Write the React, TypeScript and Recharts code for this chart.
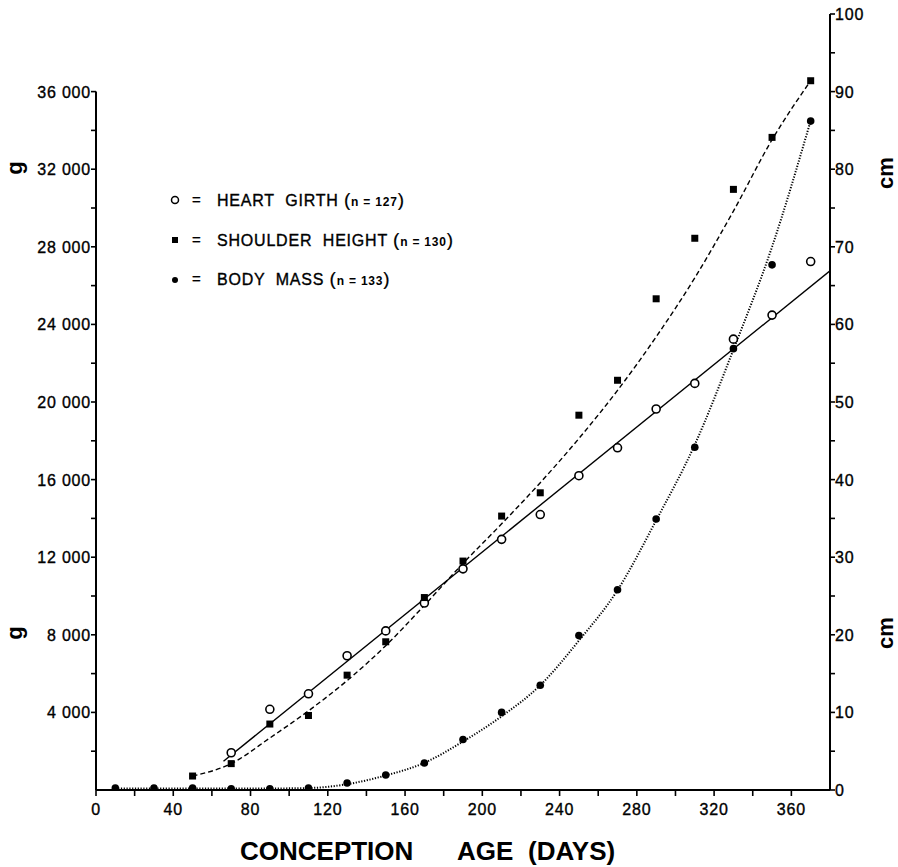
import React from 'react';
import { ComposedChart, XAxis, YAxis, Scatter, Line, ReferenceLine } from 'recharts';

const FONT = '"Liberation Sans", Arial, sans-serif';

// Heart girth (cm, right axis)
const girthDays = [70, 90, 110, 130, 150, 170, 190, 210, 230, 250, 270, 290, 310, 330, 350, 370];
const girthCm = [4.8, 10.4, 12.4, 17.3, 20.5, 24.1, 28.5, 32.3, 35.5, 40.5, 44.1, 49.1, 52.4, 58.1, 61.2, 68.1];
const girthFitDays = [66, 380];
const girthFitCm = [3.7, 66.9];

// Shoulder height (cm, right axis)
const shoulderDays = [50, 70, 90, 110, 130, 150, 170, 190, 210, 230, 250, 270, 290, 310, 330, 350, 370];
const shoulderCm = [1.8, 3.4, 8.5, 9.6, 14.8, 19.1, 24.8, 29.5, 35.3, 38.3, 48.3, 52.8, 63.3, 71.1, 77.4, 84.1, 91.4];
const shoulderFitDays = [50, 70, 90, 110, 130, 150, 170, 190, 210, 230, 250, 270, 290, 310, 330, 350, 370];
const shoulderFitCm = [1.8, 3.4, 6.7, 10.2, 14.1, 18.6, 23.8, 29.2, 34.3, 39.6, 45.3, 51.5, 58.4, 66.0, 74.6, 83.8, 91.4];

// Body mass (g, left axis)
const massDays = [10, 30, 50, 70, 90, 110, 130, 150, 170, 190, 210, 230, 250, 270, 290, 310, 330, 350, 370];
const massG = [100, 100, 100, 60, 60, 100, 360, 770, 1390, 2600, 4000, 5400, 7960, 10320, 13970, 17670, 22750, 27070, 34480];
const massFitDays = [10, 30, 50, 70, 90, 110, 130, 150, 170, 190, 210, 230, 250, 270, 290, 310, 330, 350, 370];
const massFitG = [80, 80, 80, 80, 80, 100, 300, 750, 1400, 2500, 3800, 5400, 7700, 10300, 13900, 17800, 22700, 28000, 34500];

const xTicks = [0, 20, 40, 60, 80, 100, 120, 140, 160, 180, 200, 220, 240, 260, 280, 300, 320, 340, 360];
const gTicks = [2000, 4000, 6000, 8000, 10000, 12000, 14000, 16000, 18000, 20000, 22000, 24000, 26000, 28000, 30000, 32000, 34000, 36000];
const cmTicks = [0, 5, 10, 15, 20, 25, 30, 35, 40, 45, 50, 55, 60, 65, 70, 75, 80, 85, 90, 95, 100];

const toRows = (xs: number[], ys: number[]) => xs.map((d, i) => ({ day: d, v: ys[i] }));

const girthData = toRows(girthDays, girthCm);
const girthFit = toRows(girthFitDays, girthFitCm);
const shoulderData = toRows(shoulderDays, shoulderCm);
const shoulderFit = toRows(shoulderFitDays, shoulderFitCm);
const massData = toRows(massDays, massG);
const massFit = toRows(massFitDays, massFitG);

const fmtG = (v: number) => `${Math.floor(v / 1000)} 000`;

const tickText = { fontFamily: FONT, fontSize: 16, letterSpacing: 0.8, fill: '#000', stroke: '#000', strokeWidth: 0.35 };

const XTick = (p: any) => {
  const v = p.payload.value;
  if (v % 40 !== 0) return <g />;
  return (
    <text x={p.x} y={p.y + 17} textAnchor="middle" {...tickText}>
      {v}
    </text>
  );
};

const GTick = (p: any) => {
  const v = p.payload.value;
  if (v % 4000 !== 0) return <g />;
  return (
    <text x={p.x + 2} y={p.y + 6} textAnchor="end" {...tickText}>
      {fmtG(v)}
    </text>
  );
};

const CmTick = (p: any) => {
  const v = p.payload.value;
  if (v % 10 !== 0) return <g />;
  return (
    <text x={p.x - 2} y={p.y + 6} textAnchor="start" {...tickText}>
      {v}
    </text>
  );
};

const OpenCircle = (p: any) => (
  <circle cx={p.cx} cy={p.cy} r={4} fill="#fff" stroke="#000" strokeWidth={1.6} />
);
const FilledSquare = (p: any) => (
  <rect x={p.cx - 3.5} y={p.cy - 3.5} width={7} height={7} fill="#000" />
);
const FilledDot = (p: any) => <circle cx={p.cx} cy={p.cy} r={3.8} fill="#000" />;

const legendRows = [
  { y: 200, label: 'HEART  GIRTH', n: 'n = 127', kind: 'open' },
  { y: 240, label: 'SHOULDER  HEIGHT', n: 'n = 130', kind: 'square' },
  { y: 279, label: 'BODY  MASS', n: 'n = 133', kind: 'dot' },
];

export default function App() {
  return (
    <div style={{ position: 'absolute', left: 0, top: 0, width: 898, height: 867, background: '#fff' }}>
      <ComposedChart width={898} height={867} margin={{ top: 14, right: 8, bottom: 37, left: 36 }}>
        <XAxis
          type="number"
          dataKey="day"
          domain={[0, 380]}
          ticks={xTicks}
          tick={XTick}
          tickSize={6}
          height={40}
          interval={0}
          allowDataOverflow
          axisLine={{ stroke: '#000', strokeWidth: 2 }}
          tickLine={{ stroke: '#000', strokeWidth: 1.6 }}
        />
        <YAxis
          yAxisId="g"
          orientation="left"
          dataKey="v"
          type="number"
          domain={[0, 40000]}
          ticks={gTicks}
          tick={GTick}
          interval={0}
          tickSize={5}
          width={60}
          allowDataOverflow
          axisLine={false}
          tickLine={{ stroke: '#000', strokeWidth: 1.6 }}
        />
        <YAxis
          yAxisId="cm"
          orientation="right"
          dataKey="v"
          type="number"
          domain={[0, 100]}
          ticks={cmTicks}
          tick={CmTick}
          interval={0}
          tickSize={5}
          width={60}
          allowDataOverflow
          axisLine={{ stroke: '#000', strokeWidth: 2 }}
          tickLine={{ stroke: '#000', strokeWidth: 1.6 }}
        />
        <ReferenceLine
          yAxisId="g"
          segment={[{ x: 0, y: 0 }, { x: 0, y: 36000 }]}
          stroke="#000"
          strokeWidth={2}
        />
        <Line
          yAxisId="cm"
          data={girthFit}
          dataKey="v"
          type="linear"
          stroke="#000"
          strokeWidth={1.4}
          dot={false}
          isAnimationActive={false}
        />
        <Line
          yAxisId="cm"
          data={shoulderFit}
          dataKey="v"
          type="monotone"
          stroke="#000"
          strokeWidth={1.4}
          strokeDasharray="5 3"
          dot={false}
          isAnimationActive={false}
        />
        <Line
          yAxisId="g"
          data={massFit}
          dataKey="v"
          type="monotone"
          stroke="#000"
          strokeWidth={2}
          strokeDasharray="1.2 1.6"
          dot={false}
          isAnimationActive={false}
        />
        <Scatter yAxisId="cm" data={girthData} dataKey="v" shape={OpenCircle} isAnimationActive={false} />
        <Scatter yAxisId="cm" data={shoulderData} dataKey="v" shape={FilledSquare} isAnimationActive={false} />
        <Scatter yAxisId="g" data={massData} dataKey="v" shape={FilledDot} isAnimationActive={false} />
      </ComposedChart>
      <svg
        width={898}
        height={867}
        style={{ position: 'absolute', left: 0, top: 0, pointerEvents: 'none' }}
      >
        {legendRows.map((r) => (
          <g key={r.label}>
            {r.kind === 'open' && <circle cx={175} cy={r.y} r={3.5} fill="#fff" stroke="#000" strokeWidth={1.5} />}
            {r.kind === 'square' && <rect x={172} y={r.y - 3} width={6} height={6} fill="#000" />}
            {r.kind === 'dot' && <circle cx={175} cy={r.y + 1} r={3} fill="#000" />}
            <text x={192} y={r.y + 5} fontFamily={FONT} fontSize={15} fill="#000" stroke="#000" strokeWidth={0.3}>=</text>
            <text x={217} y={r.y + 6} fontFamily={FONT} fontSize={16} letterSpacing={0.8} fill="#000" stroke="#000" strokeWidth={0.35} xmlSpace="preserve">
              {r.label + ' '}
              <tspan fontSize={19} strokeWidth={0.2}>(</tspan>
              <tspan fontSize={12} fontWeight="bold" strokeWidth={0}>{r.n}</tspan>
              <tspan fontSize={19} strokeWidth={0.2}>)</tspan>
            </text>
          </g>
        ))}
        <text transform="rotate(-90 22 168)" x={22} y={168} textAnchor="middle" fontFamily={FONT} fontWeight="bold" fontSize={22} fill="#000">g</text>
        <text transform="rotate(-90 22 633)" x={22} y={633} textAnchor="middle" fontFamily={FONT} fontWeight="bold" fontSize={22} fill="#000">g</text>
        <text transform="rotate(-90 893 173)" x={893} y={173} textAnchor="middle" fontFamily={FONT} fontWeight="bold" fontSize={22} fill="#000">cm</text>
        <text transform="rotate(-90 893 633)" x={893} y={633} textAnchor="middle" fontFamily={FONT} fontWeight="bold" fontSize={22} fill="#000">cm</text>
        <text y={860} fontFamily={FONT} fontWeight="bold" fontSize={26} fill="#000">
          <tspan x={240}>CONCEPTION</tspan>
          <tspan x={457}>AGE</tspan>
          <tspan x={528}>(DAYS)</tspan>
        </text>
      </svg>
    </div>
  );
}
